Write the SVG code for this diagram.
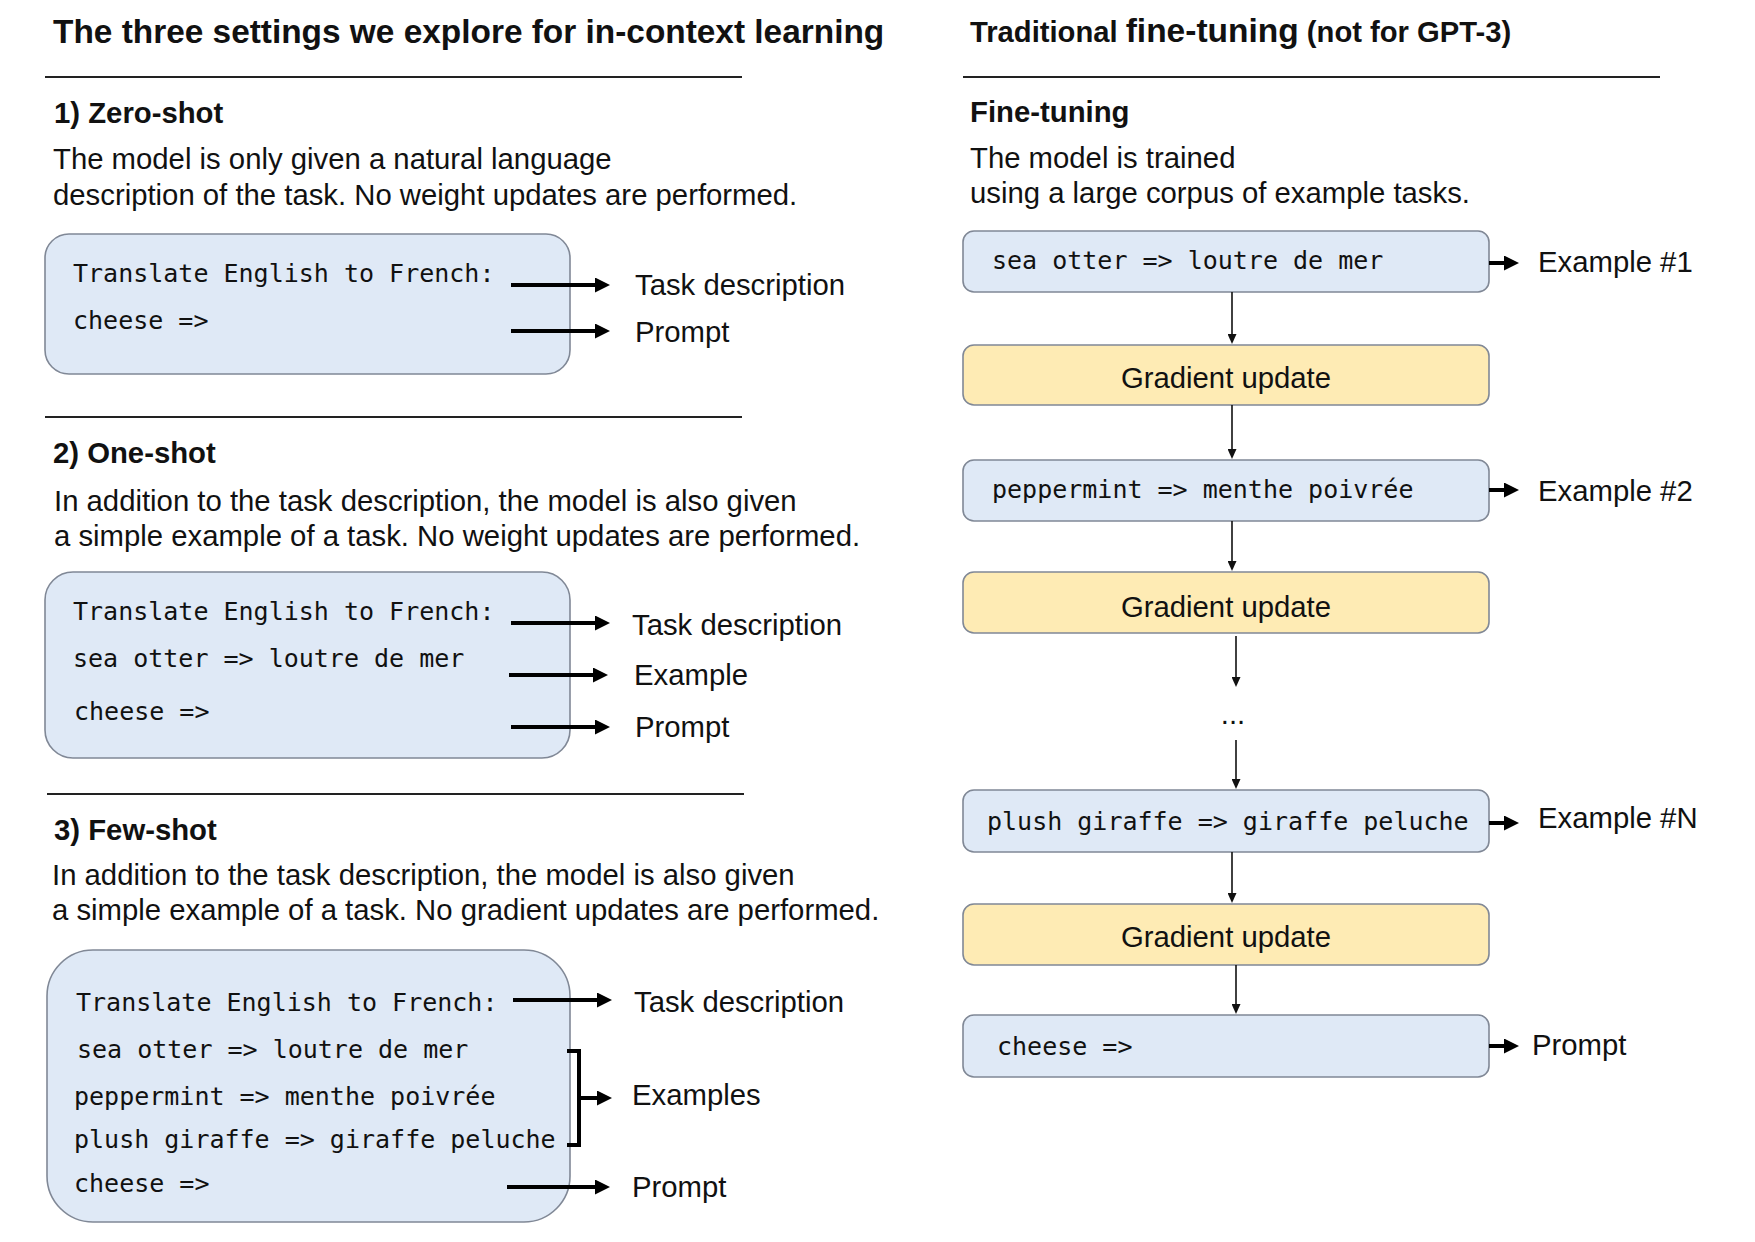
<svg xmlns="http://www.w3.org/2000/svg" width="1755" height="1242" viewBox="0 0 1755 1242">
<defs>
<style>
.t{font-family:"Liberation Sans",Arial,sans-serif;fill:#111;}
.h{font-family:"Liberation Sans",Arial,sans-serif;font-weight:bold;fill:#111;}
.r{font-size:29.3px;}
.m{font-family:"DejaVu Sans Mono","Liberation Mono",monospace;font-size:25px;fill:#111;}
.blue{fill:#dfe9f6;stroke:#808896;stroke-width:1.6;}
.yel{fill:#feebb4;stroke:#808896;stroke-width:1.6;}
.hr{stroke:#222;stroke-width:2;}
.big{stroke:#000;stroke-width:4;fill:none;}
.thin{stroke:#111;stroke-width:1.6;fill:none;}
</style>
<marker id="ah" markerUnits="userSpaceOnUse" viewBox="0 0 15 15" refX="1" refY="7.5" markerWidth="15" markerHeight="15" orient="auto">
<path d="M0,0 L15,7.5 L0,15 z" fill="#000"/>
</marker>
<marker id="as" markerUnits="userSpaceOnUse" viewBox="0 0 10 9" refX="1" refY="4.5" markerWidth="10" markerHeight="9" orient="auto">
<path d="M0,0 L10,4.5 L0,9 z" fill="#111"/>
</marker>
</defs>
<rect width="1755" height="1242" fill="#fff"/>

<g id="left-header">
<text class="h" x="53" y="43" font-size="33.4">The three settings we explore for in-context learning</text>
<line class="hr" x1="45" y1="77" x2="742" y2="77"/>
</g>

<g id="zero-shot">
<text class="h r" x="54" y="123">1) Zero-shot</text>
<text class="t r" x="53" y="169">The model is only given a natural language</text>
<text class="t r" x="53" y="205">description of the task. No weight updates are performed.</text>
<rect class="blue" x="45" y="234" width="525" height="140" rx="24"/>
<text class="m" x="73" y="282">Translate English to French:</text>
<text class="m" x="73" y="329">cheese =&gt;</text>
<text class="t r" x="635" y="295">Task description</text>
<text class="t r" x="635" y="342">Prompt</text>
</g>

<line class="hr" x1="45" y1="417" x2="742" y2="417"/>

<g id="one-shot">
<text class="h r" x="53" y="463">2) One-shot</text>
<text class="t r" x="54" y="511">In addition to the task description, the model is also given</text>
<text class="t r" x="54" y="546">a simple example of a task. No weight updates are performed.</text>
<rect class="blue" x="45" y="572" width="525" height="186" rx="28"/>
<text class="m" x="73" y="620">Translate English to French:</text>
<text class="m" x="73" y="667">sea otter =&gt; loutre de mer</text>
<text class="m" x="74" y="720">cheese =&gt;</text>
<text class="t r" x="632" y="635">Task description</text>
<text class="t r" x="634" y="685">Example</text>
<text class="t r" x="635" y="737">Prompt</text>
</g>

<line class="hr" x1="47" y1="794" x2="744" y2="794"/>

<g id="few-shot">
<text class="h r" x="54" y="840">3) Few-shot</text>
<text class="t r" x="52" y="885">In addition to the task description, the model is also given</text>
<text class="t r" x="52" y="920">a simple example of a task. No gradient updates are performed.</text>
<rect class="blue" x="47" y="950" width="523" height="272" rx="46"/>
<text class="m" x="76" y="1011">Translate English to French:</text>
<text class="m" x="77" y="1058">sea otter =&gt; loutre de mer</text>
<text class="m" x="74" y="1105">peppermint =&gt; menthe poivrée</text>
<text class="m" x="74" y="1148">plush giraffe =&gt; giraffe peluche</text>
<text class="m" x="74" y="1192">cheese =&gt;</text>
<text class="t r" x="634" y="1012">Task description</text>
<text class="t r" x="632" y="1105">Examples</text>
<text class="t r" x="632" y="1197">Prompt</text>
</g>

<g id="right-header">
<text class="h" x="970" y="42"><tspan font-size="29.2">Traditional </tspan><tspan font-size="33.5">fine-tuning</tspan><tspan font-size="29.2"> (not for GPT-3)</tspan></text>
<line class="hr" x1="963" y1="77" x2="1660" y2="77"/>
<text class="h r" x="970" y="122">Fine-tuning</text>
<text class="t r" x="970" y="168">The model is trained</text>
<text class="t r" x="970" y="203">using a large corpus of example tasks.</text>
</g>

<g id="ft-ex1">
<rect class="blue" x="963" y="231" width="526" height="61" rx="11"/>
<text class="m" x="992" y="269">sea otter =&gt; loutre de mer</text>
<text class="t r" x="1538" y="272">Example #1</text>
</g>
<g id="ft-grad1">
<rect class="yel" x="963" y="345" width="526" height="60" rx="11"/>
<text class="t r" x="1226" y="388" text-anchor="middle">Gradient update</text>
</g>
<g id="ft-ex2">
<rect class="blue" x="963" y="460" width="526" height="61" rx="11"/>
<text class="m" x="992" y="498">peppermint =&gt; menthe poivrée</text>
<text class="t r" x="1538" y="501">Example #2</text>
</g>
<g id="ft-grad2">
<rect class="yel" x="963" y="572" width="526" height="61" rx="11"/>
<text class="t r" x="1226" y="617" text-anchor="middle">Gradient update</text>
</g>
<g id="ft-dots">
<text class="t r" x="1233" y="724" text-anchor="middle">...</text>
</g>
<g id="ft-exN">
<rect class="blue" x="963" y="790" width="526" height="62" rx="11"/>
<text class="m" x="987" y="830">plush giraffe =&gt; giraffe peluche</text>
<text class="t r" x="1538" y="828">Example #N</text>
</g>
<g id="ft-grad3">
<rect class="yel" x="963" y="904" width="526" height="61" rx="11"/>
<text class="t r" x="1226" y="947" text-anchor="middle">Gradient update</text>
</g>
<g id="ft-prompt">
<rect class="blue" x="963" y="1015" width="526" height="62" rx="11"/>
<text class="m" x="997" y="1055">cheese =&gt;</text>
<text class="t r" x="1532" y="1055">Prompt</text>
</g>

<g id="connectors">
<line class="big" x1="511" y1="285" x2="596" y2="285" marker-end="url(#ah)"/>
<line class="big" x1="511" y1="331" x2="596" y2="331" marker-end="url(#ah)"/>
<line class="big" x1="511" y1="623" x2="596" y2="623" marker-end="url(#ah)"/>
<line class="big" x1="509" y1="675" x2="594" y2="675" marker-end="url(#ah)"/>
<line class="big" x1="511" y1="727" x2="596" y2="727" marker-end="url(#ah)"/>
<line class="big" x1="513" y1="1000" x2="598" y2="1000" marker-end="url(#ah)"/>
<path class="big" d="M567,1051 H579 V1145 H567"/>
<line class="big" x1="579" y1="1098" x2="598" y2="1098" marker-end="url(#ah)"/>
<line class="big" x1="507" y1="1187" x2="596" y2="1187" marker-end="url(#ah)"/>
<line class="big" x1="1489" y1="263" x2="1505" y2="263" marker-end="url(#ah)"/>
<line class="big" x1="1489" y1="490" x2="1505" y2="490" marker-end="url(#ah)"/>
<line class="big" x1="1489" y1="823" x2="1505" y2="823" marker-end="url(#ah)"/>
<line class="big" x1="1489" y1="1046" x2="1505" y2="1046" marker-end="url(#ah)"/>
<line class="thin" x1="1232" y1="292" x2="1232" y2="335" marker-end="url(#as)"/>
<line class="thin" x1="1232" y1="405" x2="1232" y2="450" marker-end="url(#as)"/>
<line class="thin" x1="1232" y1="521" x2="1232" y2="562" marker-end="url(#as)"/>
<line class="thin" x1="1236" y1="636" x2="1236" y2="678" marker-end="url(#as)"/>
<line class="thin" x1="1236" y1="740" x2="1236" y2="780" marker-end="url(#as)"/>
<line class="thin" x1="1232" y1="852" x2="1232" y2="894" marker-end="url(#as)"/>
<line class="thin" x1="1236" y1="965" x2="1236" y2="1005" marker-end="url(#as)"/>
</g>
</svg>
